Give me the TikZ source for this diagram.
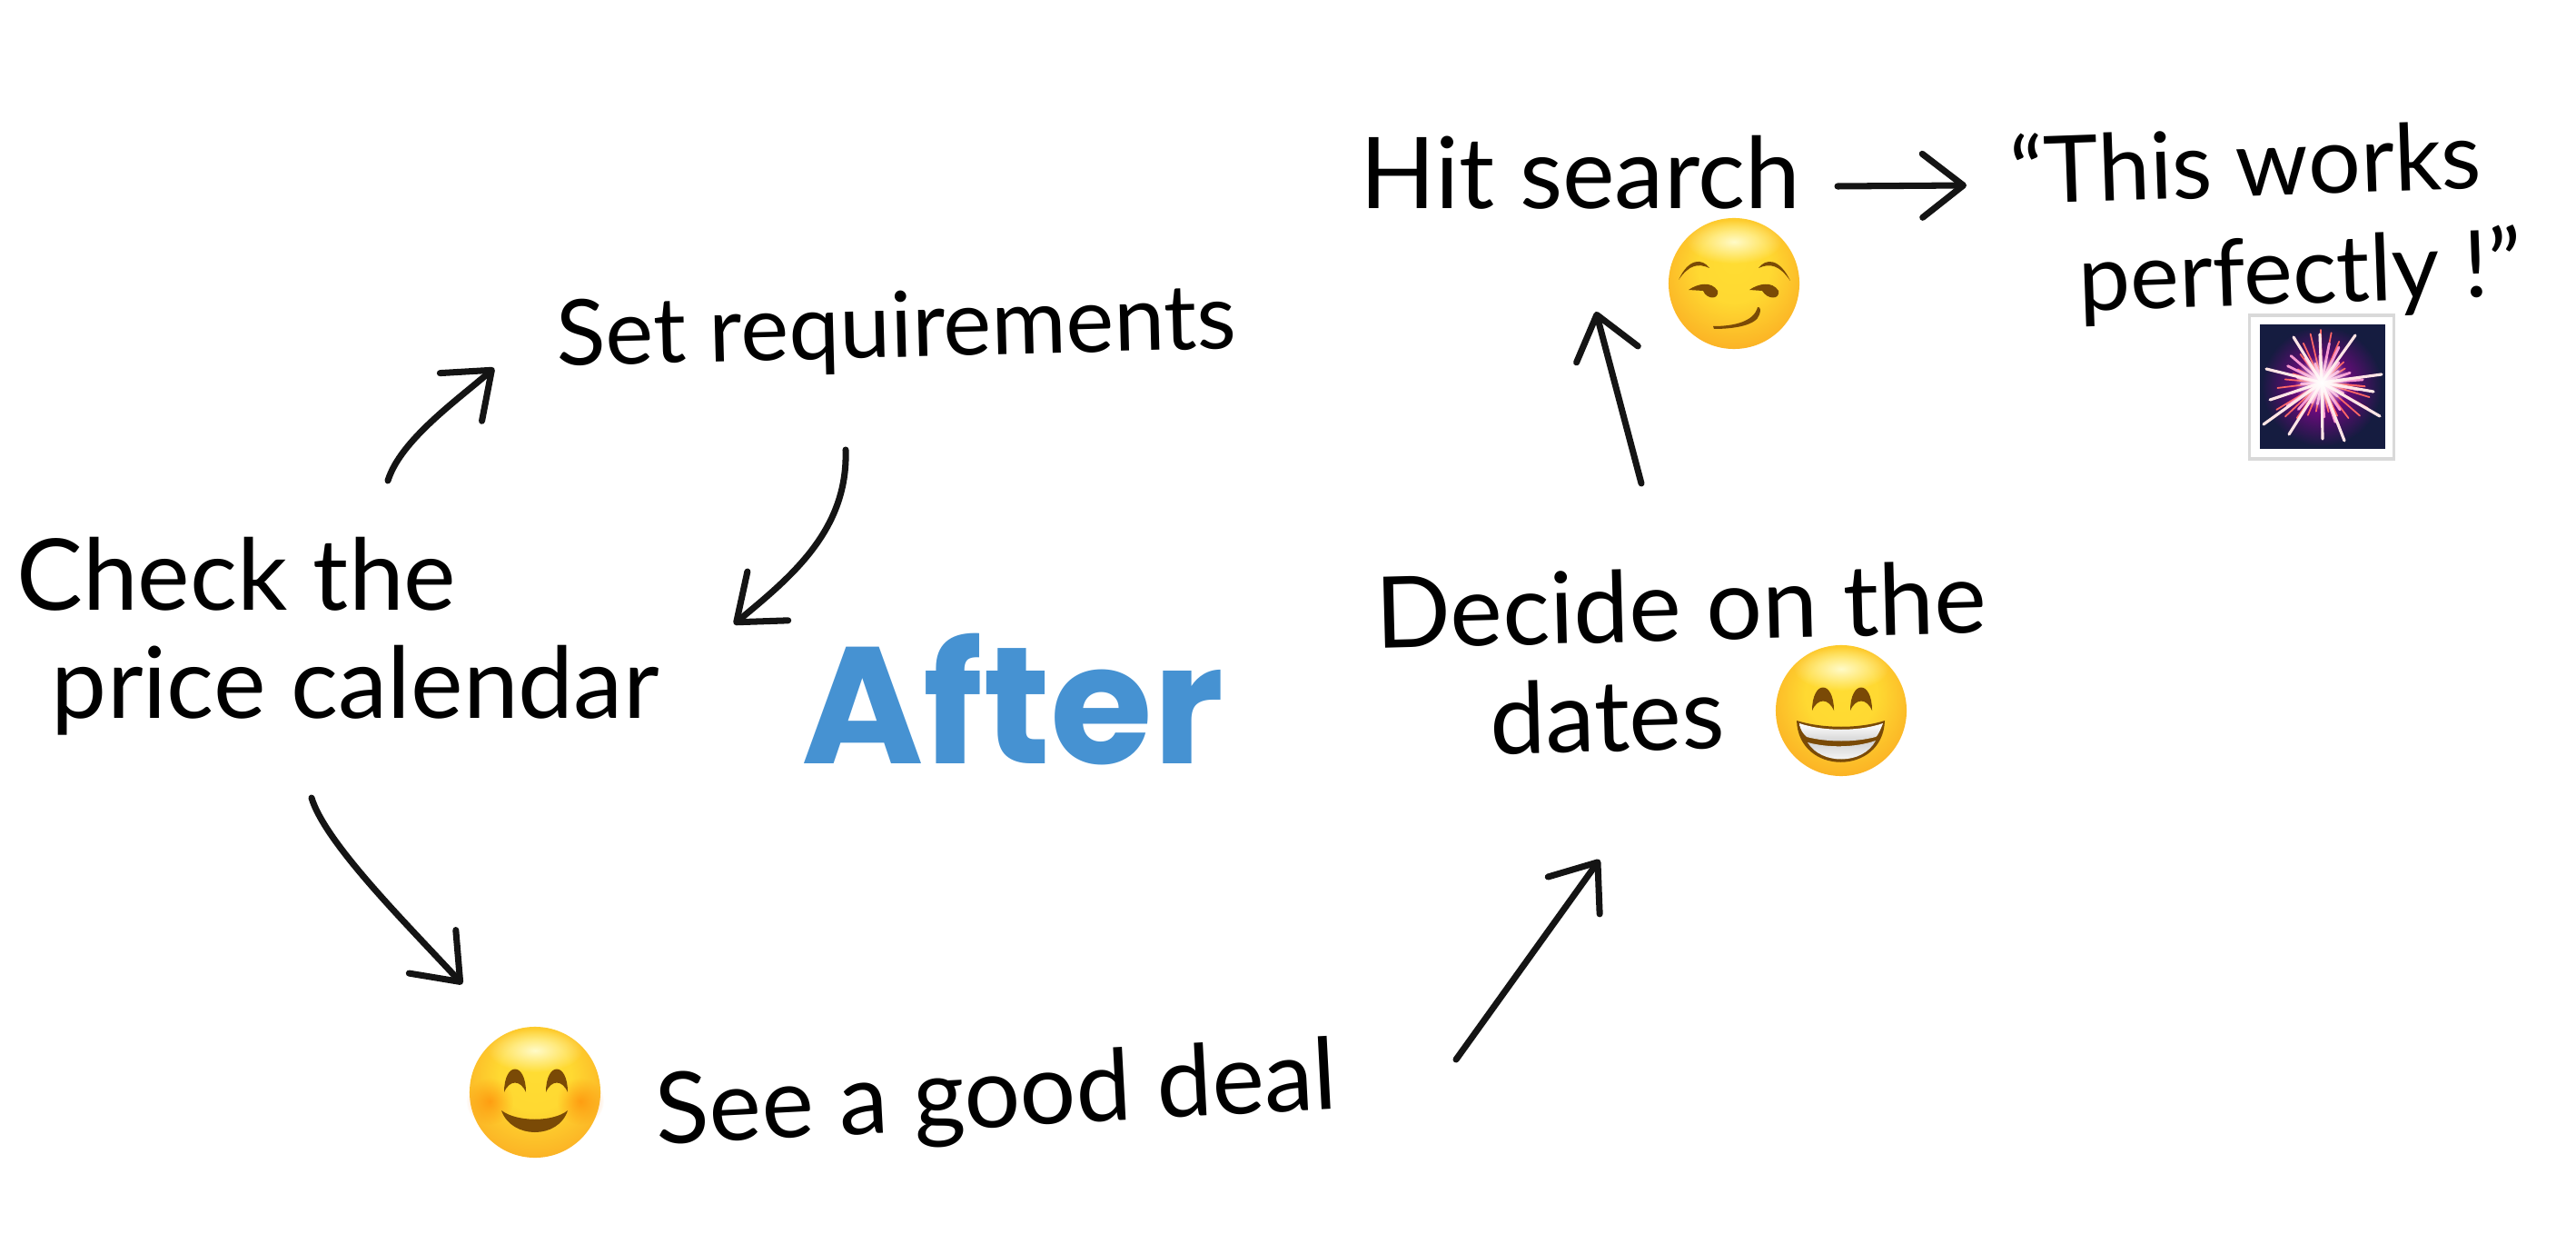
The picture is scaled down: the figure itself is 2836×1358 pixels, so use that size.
\documentclass[tikz,border=0pt]{standalone}
\usepackage{fontspec}
\setmainfont{Lato}
\newfontfamily\afterfont{Poppins}
\usetikzlibrary{arrows.meta,fadings}
\definecolor{facetop}{HTML}{FFFBC8}
\definecolor{facemid}{HTML}{FFDD33}
\definecolor{facelow}{HTML}{FBB024}
\definecolor{facerim}{HTML}{E98A0A}
\definecolor{featbrown}{HTML}{7A4A06}
\definecolor{afterblue}{HTML}{4692D2}
\definecolor{skydark}{HTML}{151C40}
\pgfdeclareradialshading{facegrad}{\pgfpoint{0bp}{9bp}}{color(0bp)=(facemid); color(14bp)=(facemid!90!facelow); color(30bp)=(facelow); color(33.5bp)=(facerim); color(50bp)=(facerim)}
\tikzfading[name=softblob, inner color=transparent!0, outer color=transparent!100]
\newcommand{\facegloss}{\fill [facetop, path fading=softblob] (0, -46) ellipse [x radius=0.52cm, y radius=0.24cm];}
\tikzset{
    >={Straight Barb[length=4.5mm,width=7mm,round]},
    hand/.style={align=left, inner sep=0pt, font=\fontsize{31}{34}\selectfont},
    flow/.style={->, line width=2pt, line cap=round, black!92},
    facebase/.style={circle, minimum size=1.44cm, inner sep=0pt, shading=facegrad},
    feature/.style={fill=featbrown},
    ray/.style={line cap=round, line width=0.9pt}
}
\begin{document}
\begin{tikzpicture}[x=0.01cm, y=-0.01cm]
    \useasboundingbox (0, 0) rectangle (2836, 1358);
    \fill [white] (0, 0) rectangle (2836, 1358);

    % Steps
    \node [hand] (check) at (372, 700) {Check the\\\hspace*{11pt}price calendar};
    \node [hand, font=\fontsize{28.5}{34}\selectfont, rotate=1.5] (setreq) at (987, 365) {Set requirements};
    \node [hand, rotate=3] (deal) at (1097, 1210) {See a good deal};
    \node [hand, rotate=1.5] (decide) at (1852, 725) {Decide on the\\\hspace*{35pt}dates};
    \node [hand] (search) at (1740, 190) {Hit search};
    \node [hand, font=\fontsize{29}{34}\selectfont, rotate=2] (quote) at (2495, 245) {``This works\\\hspace*{20pt}perfectly !''};
    \node [inner sep=0pt, text=afterblue, font=\afterfont\bfseries\fontsize{52}{60}\selectfont] (after) at (1115, 770) {After};

    % Arrows between the steps
    \draw [flow] ([shift={(55, -171)}]check.center) .. controls +(14, -45) and +(-40, 35) .. ([shift={(-443, 40)}]setreq.center);
    \draw [flow] ([shift={(-56, 130)}]setreq.center) .. controls +(3, 90) and +(60, -50) .. ([shift={(436, -13)}]check.center);
    \draw [flow] ([shift={(-29, 178)}]check.center) .. controls +(15, 50) and +(-60, -65) .. ([shift={(-588, -127)}]deal.center);
    \draw [flow] ([shift={(506, -44)}]deal.center) -- ([shift={(-91, 221)}]decide.center);
    \draw [flow] ([shift={(-45, -193)}]decide.center) -- ([shift={(17, 153)}]search.center);
    \draw [flow] ([shift={(283, 15)}]search.center) -- ([shift={(-330, -41)}]quote.center);

    % Smiling face
    \node [facebase] (smile) at (589, 1202) {};
    \begin{scope}[shift={(smile.center)}]
        \facegloss
        \fill [orange, opacity=0.6, path fading=softblob] (-50, 10) circle [radius=0.26cm];
        \fill [orange, opacity=0.6, path fading=softblob] (50, 10) circle [radius=0.26cm];
        \foreach \dx in {-22, 24} {
            \fill [feature] (\dx-12, 0) .. controls (\dx-12, -34) and (\dx+12, -34) .. (\dx+12, 0)
                .. controls (\dx+6, -14) and (\dx-6, -14) .. cycle;
        }
        \fill [feature] (-37, 20) .. controls (-20, 33) and (20, 33) .. (36, 20) .. controls (26, 52) and (-26, 52) .. cycle;
    \end{scope}

    % Smirking face
    \node [facebase] (smirk) at (1909, 312) {};
    \begin{scope}[shift={(smirk.center)}]
        \facegloss
        \fill [feature] (-61, -4) .. controls (-50, -28) and (-35, -28) .. (-27, -17) .. controls (-40, -23) and (-50, -20) .. cycle;
        \fill [feature] (62, -3) .. controls (50, -28) and (35, -28) .. (27, -17) .. controls (40, -23) and (50, -20) .. cycle;
        \fill [feature] (-50, 7) .. controls (-40, 0) and (-25, -3) .. (-18, 8) .. controls (-16, 18) and (-30, 18) .. (-34, 8) -- cycle;
        \fill [feature] (17, 7) .. controls (27, 0) and (42, -3) .. (49, 8) .. controls (51, 18) and (37, 18) .. (31, 8) -- cycle;
        \fill [feature] (-23, 47) .. controls (0, 47) and (22, 42) .. (26, 26) .. controls (30, 25) and (29, 32) .. (28, 34)
            .. controls (25, 46) and (0, 50) .. (-22, 50) -- cycle;
    \end{scope}

    % Grinning face
    \node [facebase] (grin) at (2027, 782) {};
    \begin{scope}[shift={(grin.center)}]
        \facegloss
        \foreach \dx in {-20, 22} {
            \fill [feature] (\dx-12, 0) .. controls (\dx-12, -34) and (\dx+12, -34) .. (\dx+12, 0)
                .. controls (\dx+6, -14) and (\dx-6, -14) .. cycle;
        }
        \fill [feature] (-49, 11) .. controls (-20, 20) and (20, 20) .. (48, 11) .. controls (46, 72) and (-47, 72) .. cycle;
        \shade [top color=white, bottom color=black!18] (-46, 14) .. controls (-20, 23) and (20, 23) .. (46, 14)
            .. controls (42, 24) and (40, 28) .. (38, 29) .. controls (15, 35) and (-15, 35) .. (-38, 29) .. controls (-42, 25) and (-45, 22) .. cycle;
        \shade [top color=black!18, bottom color=white] (-37, 35) .. controls (-15, 41) and (15, 41) .. (38, 33) .. controls (24, 60) and (-22, 60) .. cycle;
    \end{scope}

    % Firework
    \node [draw=black!15, line width=1pt, fill=white, minimum width=1.59cm, minimum height=1.58cm, inner sep=0pt] (burst) at (2556, 426) {};
    \begin{scope}[shift={(2556, 421)}]
        \fill [skydark] (-68, -64) rectangle (70, 73);
        \fill [violet!70!magenta, path fading=softblob] (0, 4) circle [radius=0.66cm];
        \foreach \a in {5, 17, ..., 365} {
            \pgfmathsetmacro{\len}{44 + 14*sin(3*\a)}
            \draw [ray, red!60!white, line width=0.5pt] (0, 0) -- (\a:\len);
        }
        \foreach \a in {11, 26, ..., 371} {
            \pgfmathsetmacro{\len}{34 + 12*cos(5*\a)}
            \draw [ray, magenta!40!white, line width=0.8pt] (0, 0) -- (\a:\len);
        }
        \foreach \dx/\dy in {-61/-15, 66/-9, -64/46, 64/37, -2/-53, 37/-52, -31/-50, 57/10, -57/19, 1/62, -36/57, 25/64} {
            \draw [ray, pink!40!white] (0, 0) -- (\dx, \dy);
        }
        \fill [white, path fading=softblob] (0, 0) circle [radius=0.3cm];
    \end{scope}
\end{tikzpicture}
\end{document}
